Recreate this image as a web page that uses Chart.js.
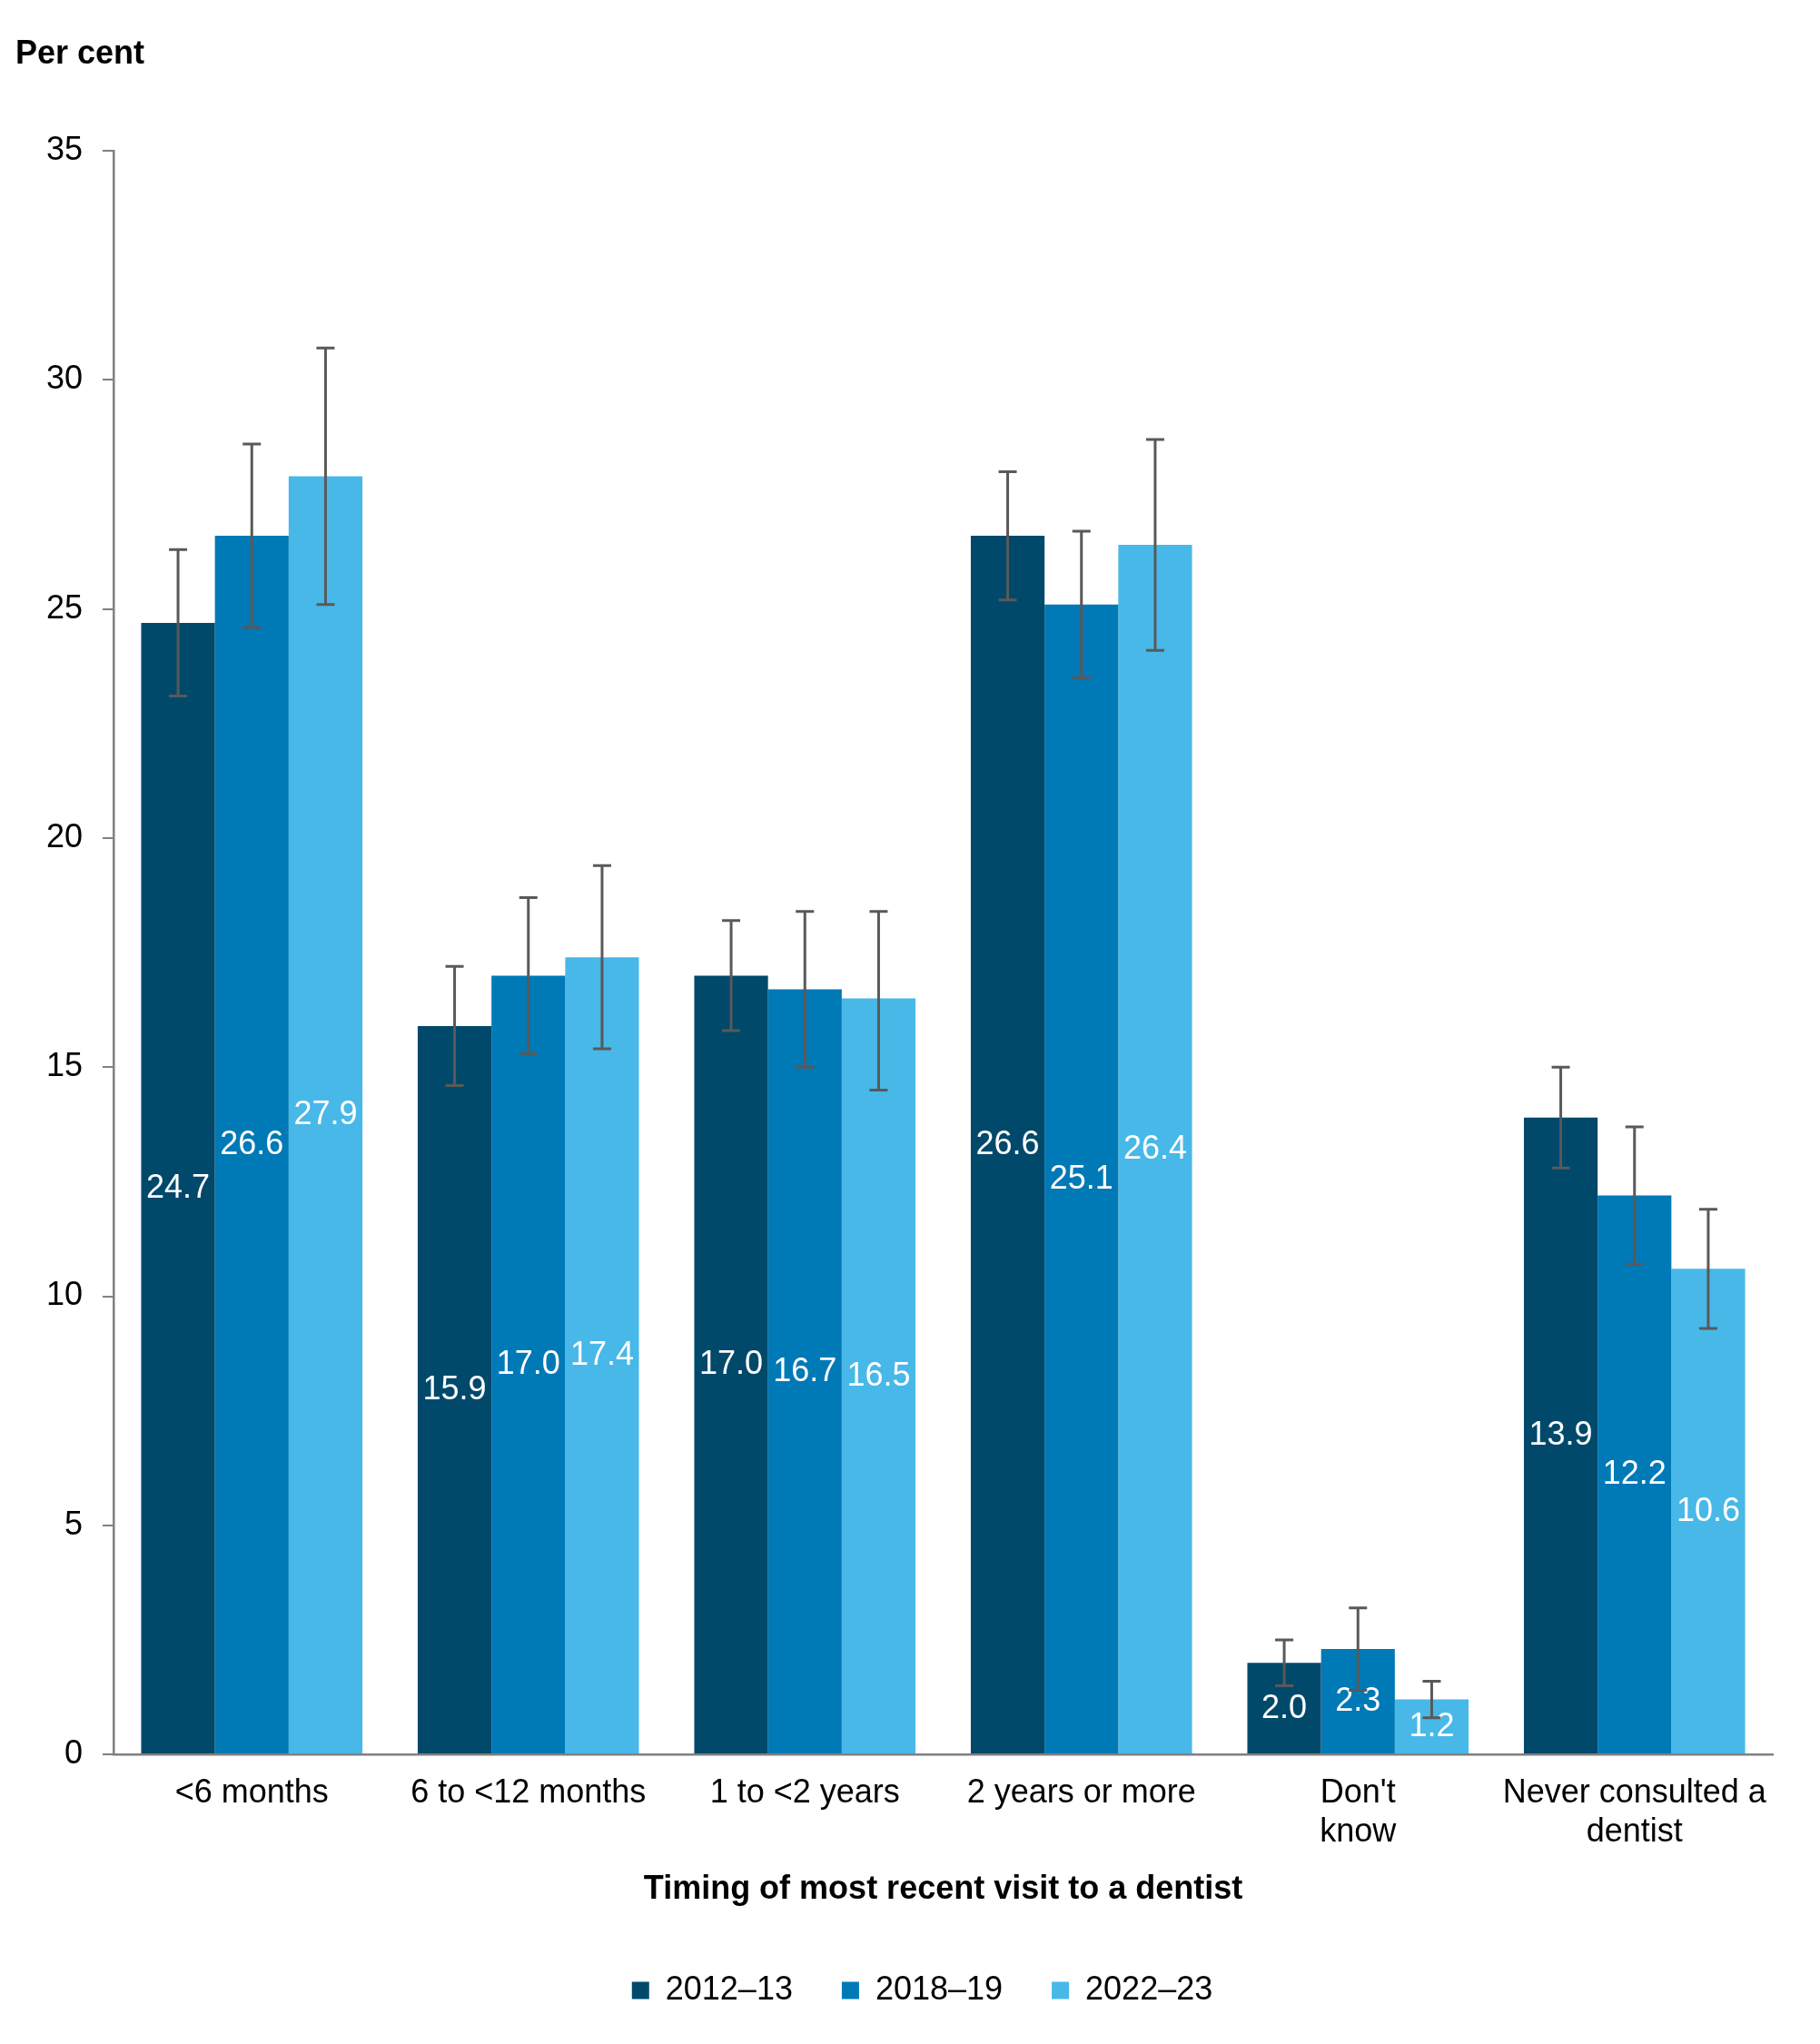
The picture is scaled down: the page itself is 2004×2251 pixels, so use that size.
<!DOCTYPE html>
<html>
<head>
<meta charset="utf-8">
<script src="https://cdn.jsdelivr.net/npm/chart.js@4.4.0/dist/chart.umd.min.js"></script>
<style>
  body { margin: 0; background: #fff; }
  #wrap { width: 2004px; height: 2251px; }
</style>
</head>
<body>
<div id="wrap"><canvas id="myChart"></canvas></div>
<script>
// categories and series
var categories = ['<6 months', '6 to <12 months', '1 to <2 years', '2 years or more', ["Don't", 'know'], ['Never consulted a', 'dentist']];
var seriesNames = ['2012\u201313', '2018\u201319', '2022\u201323'];
var seriesColors = ['#00496b', '#0079b7', '#48b8e8'];

var values2012 = [24.7, 15.9, 17.0, 26.6, 2.0, 13.9];
var values2018 = [26.6, 17.0, 16.7, 25.1, 2.3, 12.2];
var values2022 = [27.9, 17.4, 16.5, 26.4, 1.2, 10.6];

// confidence intervals (low / high)
var low2012 = [23.1, 14.6, 15.8, 25.2, 1.5, 12.8];
var high2012 = [26.3, 17.2, 18.2, 28.0, 2.5, 15.0];
var low2018 = [24.6, 15.3, 15.0, 23.5, 1.4, 10.7];
var high2018 = [28.6, 18.7, 18.4, 26.7, 3.2, 13.7];
var low2022 = [25.1, 15.4, 14.5, 24.1, 0.8, 9.3];
var high2022 = [30.7, 19.4, 18.4, 28.7, 1.6, 11.9];

var lows = [low2012, low2018, low2022];
var highs = [high2012, high2018, high2022];

Chart.defaults.font.family = "'Liberation Sans', Arial, sans-serif";
Chart.defaults.color = '#000';

// white value labels in the middle of each bar
var barLabels = {
  id: 'barLabels',
  afterDatasetsDraw: function (chart) {
    var ctx = chart.ctx;
    var yScale = chart.scales.y;
    ctx.save();
    ctx.fillStyle = '#fff';
    ctx.font = "36px 'Liberation Sans', Arial, sans-serif";
    ctx.textAlign = 'center';
    ctx.textBaseline = 'middle';
    chart.data.datasets.forEach(function (ds, i) {
      chart.getDatasetMeta(i).data.forEach(function (bar, j) {
        var v = ds.data[j];
        ctx.fillText(v.toFixed(1), bar.x, yScale.getPixelForValue(v / 2));
      });
    });
    ctx.restore();
  }
};

// error bars, drawn on top of everything
var errorBars = {
  id: 'errorBars',
  afterDraw: function (chart) {
    var ctx = chart.ctx;
    var yScale = chart.scales.y;
    ctx.save();
    ctx.strokeStyle = '#595959';
    ctx.lineWidth = 3;
    chart.data.datasets.forEach(function (ds, i) {
      chart.getDatasetMeta(i).data.forEach(function (bar, j) {
        var yl = yScale.getPixelForValue(lows[i][j]);
        var yh = yScale.getPixelForValue(highs[i][j]);
        var x = bar.x;
        ctx.beginPath();
        ctx.moveTo(x, yl); ctx.lineTo(x, yh);
        ctx.moveTo(x - 10, yl); ctx.lineTo(x + 10, yl);
        ctx.moveTo(x - 10, yh); ctx.lineTo(x + 10, yh);
        ctx.stroke();
      });
    });
    ctx.restore();
  }
};

// nudge the legend a bit to the right, like the original
var legendShift = {
  id: 'legendShift',
  afterLayout: function (chart) {
    if (chart.legend) {
      chart.legend.left += 31;
      chart.legend.right += 31;
    }
  }
};

var ctx = document.getElementById('myChart');

new Chart(ctx, {
  type: 'bar',
  data: {
    labels: categories,
    datasets: [
      { label: seriesNames[0], data: values2012, backgroundColor: seriesColors[0] },
      { label: seriesNames[1], data: values2018, backgroundColor: seriesColors[1] },
      { label: seriesNames[2], data: values2022, backgroundColor: seriesColors[2] }
    ]
  },
  options: {
    responsive: true,
    maintainAspectRatio: false,
    animation: false,
    datasets: { bar: { categoryPercentage: 0.8, barPercentage: 1.0 } },
    layout: { padding: { left: 17, right: 52, top: 0, bottom: 31 } },
    plugins: {
      title: {
        display: true,
        text: 'Per cent',
        align: 'start',
        color: '#000',
        font: { size: 36, weight: 'bold', lineHeight: 1.2 },
        padding: { top: 38, bottom: 85 }
      },
      legend: {
        position: 'bottom',
        labels: {
          boxWidth: 19,
          boxHeight: 19,
          padding: 54,
          color: '#000',
          font: { size: 36 }
        }
      },
      tooltip: { enabled: false }
    },
    scales: {
      x: {
        grid: { display: false, drawTicks: false },
        border: { display: true, color: '#808080', width: 2.5 },
        ticks: {
          color: '#000',
          font: { size: 36, lineHeight: 1.19 },
          padding: 22,
          maxRotation: 0,
          autoSkip: false
        },
        title: {
          display: true,
          text: 'Timing of most recent visit to a dentist',
          color: '#000',
          font: { size: 36, weight: 'bold', lineHeight: 1.2 },
          padding: { top: -2, bottom: 17 }
        }
      },
      y: {
        min: 0,
        max: 35,
        ticks: { stepSize: 5, color: '#000', font: { size: 36 }, padding: 22 },
        grid: { display: true, drawOnChartArea: false, drawTicks: true, tickLength: 12, color: '#808080', lineWidth: 2 },
        border: { display: true, color: '#808080', width: 2.5 },
        afterFit: function (scale) { scale.width = 108; }
      }
    }
  },
  plugins: [barLabels, errorBars, legendShift]
});
</script>
</body>
</html>
